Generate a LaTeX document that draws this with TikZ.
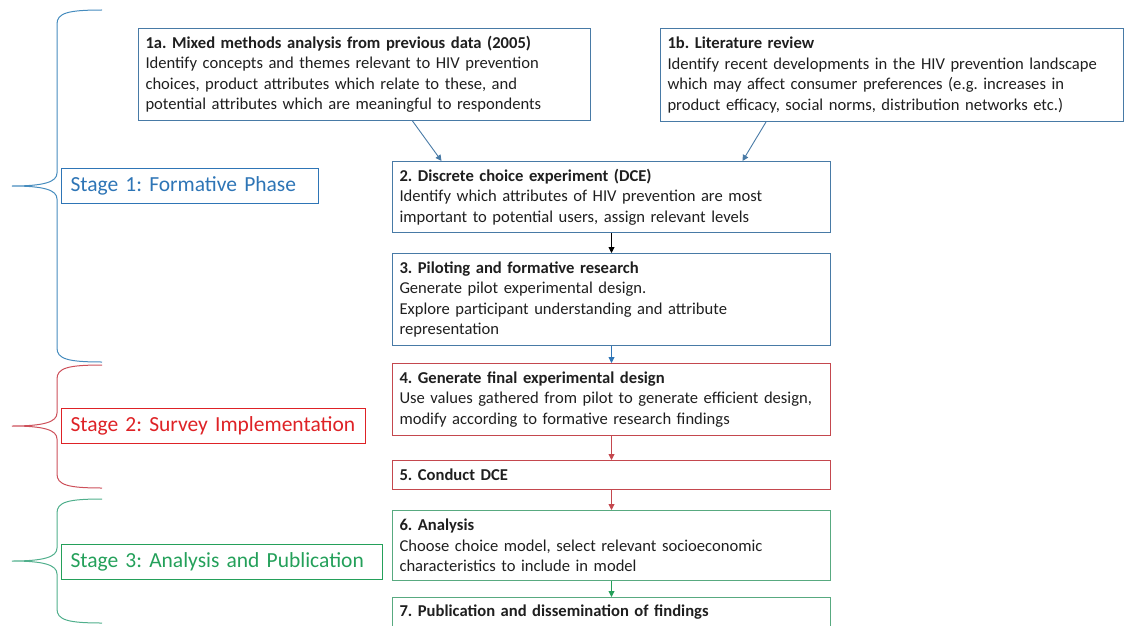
\documentclass[tikz,border=0pt]{standalone}
\usepackage{fontspec}
\setmainfont{Carlito}
\usepackage{xcolor}
\usetikzlibrary{positioning,arrows.meta}
\frenchspacing

\definecolor{stageblue}{RGB}{46,117,182}
\definecolor{stagered}{RGB}{222,34,38}
\definecolor{stagegreen}{RGB}{36,160,90}
\definecolor{lineblue}{RGB}{72,122,166}
\definecolor{linered}{RGB}{196,72,78}
\definecolor{linegreen}{RGB}{88,170,128}
\definecolor{braceblue}{RGB}{70,140,190}
\definecolor{bracered}{RGB}{205,80,90}
\definecolor{bracegreen}{RGB}{80,175,140}

\begin{document}
\begin{tikzpicture}[
    x=1pt, y=-1pt,
    box/.style={draw=#1, rectangle, line width=1pt, text width=424pt, inner xsep=7pt, inner ysep=0pt,
        align=left, text=black!88, font=\fontsize{16.6}{20.5}\selectfont},
    stage/.style={draw=#1, rectangle, line width=1pt, anchor=north west, minimum height=35pt, inner xsep=9pt,
        align=left, text=#1, font=\fontsize{21.5}{24}\selectfont},
    arrow/.style={-{Triangle[length=6pt,width=6pt]}, line width=0.9pt}
]
    \useasboundingbox (0,0) rectangle (1124,626);

    % inputs
    \node[box=lineblue, anchor=north west, text width=438pt, minimum height=92pt] (mixed) at (138,28)
        {\textbf{1a. Mixed methods analysis from previous data (2005)}\\
         Identify concepts and themes relevant to HIV prevention\\
         choices, product attributes which relate to these, and\\
         potential attributes which are meaningful to respondents};
    \node[box=lineblue, anchor=north west, text width=449pt, minimum height=93pt] (litrev) at (660,28)
        {\textbf{1b. Literature review}\\
         Identify recent developments in the HIV prevention landscape\\
         which may affect consumer preferences (e.g. increases in\\
         product efficacy, social norms, distribution networks etc.)};

    % main steps
    \node[box=lineblue, anchor=north west, minimum height=71pt] (dce) at (392,161)
        {\textbf{2. Discrete choice experiment (DCE)}\\
         Identify which attributes of HIV prevention are most\\
         important to potential users, assign relevant levels};
    \node[box=lineblue, minimum height=92pt, below=20pt of dce] (pilot)
        {\textbf{3. Piloting and formative research}\\
         Generate pilot experimental design.\\
         Explore participant understanding and attribute\\
         representation};
    \node[box=linered, minimum height=72pt, below=17pt of pilot] (design)
        {\textbf{4. Generate final experimental design}\\
         Use values gathered from pilot to generate efficient design,\\
         modify according to formative research findings};
    \node[box=linered, minimum height=29pt, below=24pt of design] (conduct)
        {\textbf{5. Conduct DCE}};
    \node[box=linegreen, minimum height=70pt, below=20pt of conduct] (analysis)
        {\textbf{6. Analysis}\\
         Choose choice model, select relevant socioeconomic\\
         characteristics to include in model};
    \node[box=linegreen, minimum height=30pt, below=16pt of analysis] (publish)
        {\textbf{7. Publication and dissemination of findings}};

    \draw[arrow, lineblue] ([xshift=48pt]mixed.south) -- ([xshift=-170pt]dce.north);
    \draw[arrow, lineblue] ([xshift=-126pt]litrev.south) -- ([xshift=131pt]dce.north);
    \draw[arrow, black] (dce) -- (pilot);
    \draw[arrow, stageblue] (pilot) -- (design);
    \draw[arrow, linered] (design) -- (conduct);
    \draw[arrow, linered] (conduct) -- (analysis);
    \draw[arrow, stagegreen] (analysis) -- (publish);

    % stages
    \node[stage=stageblue, text width=239pt] (formative) at (61,168) {Stage 1: Formative Phase};
    \node[stage=stagered, text width=286pt] (survey) at (61,408) {Stage 2: Survey Implementation};
    \node[stage=stagegreen, text width=303pt] (publication) at (61,544) {Stage 3: Analysis and Publication};

    % braces
    \foreach \col/\bt/\bm/\bb in {braceblue/10/186/362, bracered/365/426/488, bracegreen/499/561/623}
        \draw[\col, line width=1pt] (102,\bt) .. controls (68,\bt) and (57,\bt+3) .. (57,\bt+14)
            -- (57,\bm-13) .. controls (57,\bm-4) and (44,\bm) .. (12,\bm)
            .. controls (44,\bm) and (57,\bm+4) .. (57,\bm+13)
            -- (57,\bb-14) .. controls (57,\bb-3) and (68,\bb) .. (102,\bb);
\end{tikzpicture}
\end{document}
